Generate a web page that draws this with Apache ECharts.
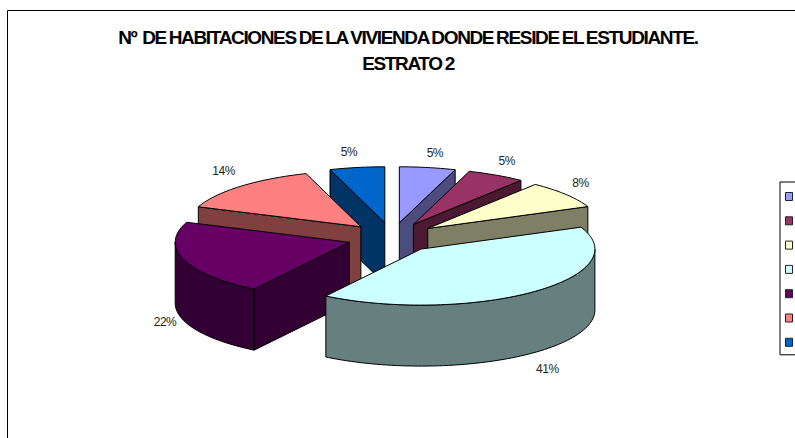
<!DOCTYPE html>
<html>
<head>
<meta charset="utf-8">
<style>
  html, body { margin: 0; padding: 0; background: #fff; overflow: hidden; }
  #myChart { width: 795px; height: 438px; }
  #myChart text { letter-spacing: -0.5px; }
  /* titulo muy apretado, como en el original */
  #myChart text[style*="bold"] { letter-spacing: -1.35px; word-spacing: -1px; }
</style>
</head>
<body>
<div id="myChart"></div>
<script src="https://cdn.jsdelivr.net/npm/echarts@6/dist/echarts.min.js"></script>
<script>
  var categories = ['1', '2', '3', '4', '5', '6', '7'];
  var percents = [5.2, 5.4, 8.0, 40.6, 21.6, 14.1, 5.1];
  var colors = ['#9999FF', '#993366', '#FFFFCC', '#CCFFFF', '#660066', '#FF8080', '#0066CC'];
  var titleText = 'Nº  DE HABITACIONES DE LA VIVIENDA DONDE RESIDE EL ESTUDIANTE.\nESTRATO 2';

  // geometria del "pie 3D"
  var cx = 392, cy = 237.6;
  var rx = 174, ry = 56, depth = 61;
  var explodeX = 45, explodeY = 15;
  var labelRx = 200, labelRy = 71;
  var labelNudge = [[3, 0], [-2, -1], [-6, -2], [-2, 4], [6, -3], [1, -4], [-4, -1]];

  var total = percents.reduce(function (a, b) { return a + b; }, 0);

  function sliceAngles(i) {
    var before = 0;
    for (var k = 0; k < i; k++) before += percents[k];
    var start = before / total * 2 * Math.PI;
    var end = (before + percents[i]) / total * 2 * Math.PI;
    return { start: start, end: end, mid: (start + end) / 2 };
  }

  // color de las paredes: la mitad del color de arriba
  function darken(hex) {
    var n = parseInt(hex.slice(1), 16);
    var r = (n >> 16) >> 1, g = ((n >> 8) & 255) >> 1, b = (n & 255) >> 1;
    return 'rgb(' + r + ',' + g + ',' + b + ')';
  }

  function renderSlice(params, api) {
    var i = params.seriesIndex;
    var a = sliceAngles(i);
    var ax = cx + explodeX * Math.sin(a.mid);
    var ay = cy - explodeY * Math.cos(a.mid);
    var point = function (t) {
      return [ax + rx * Math.sin(t), ay - ry * Math.cos(t)];
    };
    var down = function (p) { return [p[0], p[1] + depth]; };
    var border = { stroke: '#000', lineWidth: 1, lineJoin: 'round' };
    var wallColor = darken(colors[i]);
    var children = [];

    function wall(points) {
      children.push({
        type: 'polygon',
        shape: { points: points },
        style: Object.assign({ fill: wallColor }, border)
      });
    }

    // paredes rectas
    if (Math.sin(a.end) > 0.001) {
      wall([[ax, ay], point(a.end), down(point(a.end)), down([ax, ay])]);
    }
    if (Math.sin(a.start) < -0.001) {
      wall([[ax, ay], point(a.start), down(point(a.start)), down([ax, ay])]);
    }

    // pared curva, solo la parte de adelante
    var from = Math.max(a.start, Math.PI / 2);
    var to = Math.min(a.end, 1.5 * Math.PI);
    if (to > from) {
      var upper = [], lower = [];
      for (var t = from; t < to; t += 0.03) {
        upper.push(point(t));
        lower.unshift(down(point(t)));
      }
      upper.push(point(to));
      lower.unshift(down(point(to)));
      wall(upper.concat(lower));
    }

    // cara de arriba
    var top = [[ax, ay]];
    for (var s = a.start; s < a.end; s += 0.03) top.push(point(s));
    top.push(point(a.end));
    children.push({
      type: 'polygon',
      shape: { points: top },
      style: Object.assign({ fill: colors[i] }, border)
    });

    // etiqueta de porcentaje
    var front = Math.cos(a.mid) < 0;
    children.push({
      type: 'text',
      x: ax + labelRx * Math.sin(a.mid) + labelNudge[i][0],
      y: ay - labelRy * Math.cos(a.mid) + (front ? depth : 0) + labelNudge[i][1],
      style: {
        text: Math.round(api.value(0)) + '%',
        fill: '#222',
        font: '12px "Liberation Sans", Arial, sans-serif',
        align: 'center',
        verticalAlign: 'middle'
      }
    });

    return { type: 'group', children: children };
  }

  var myChart = echarts.init(document.getElementById('myChart'), null, { renderer: 'svg' });

  myChart.setOption({
    animation: false,
    color: colors,
    title: {
      text: titleText,
      left: 403,
      top: 19,
      textAlign: 'center',
      textStyle: {
        fontFamily: '"Liberation Sans", Arial, sans-serif',
        fontSize: 19,
        fontWeight: 'bold',
        color: '#000',
        lineHeight: 26
      }
    },
    legend: {
      orient: 'vertical',
      left: 780,
      top: 182,
      padding: [10, 30, 8, 5],
      itemWidth: 7,
      itemHeight: 8,
      itemGap: 15.3,
      borderColor: '#000',
      borderWidth: 1,
      icon: 'rect',
      selectedMode: false,
      data: categories,
      // los nombres quedan fuera del recorte en el original
      formatter: function () { return ''; },
      itemStyle: { borderColor: '#222', borderWidth: 1 }
    },
    graphic: [{
      type: 'rect',
      shape: { x: 7.5, y: 10.5, width: 900, height: 600 },
      style: { fill: 'none', stroke: '#000', lineWidth: 1 },
      silent: true
    }],
    series: categories.map(function (name, i) {
      return {
        name: name,
        type: 'custom',
        coordinateSystem: 'none',
        z: Math.round(10 - 5 * Math.cos(sliceAngles(i).mid)),
        renderItem: renderSlice,
        data: [[percents[i]]]
      };
    })
  });
</script>
</body>
</html>
